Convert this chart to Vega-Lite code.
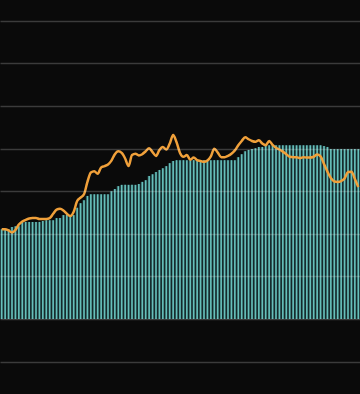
{
  "$schema": "https://vega.github.io/schema/vega-lite/v6.json",
  "width": 360,
  "height": 394,
  "padding": 0,
  "autosize": {"type": "none"},
  "background": "#0a0a0a",
  "config": {"view": {"stroke": null}},
  "data": {"values": [
    {"i":0,"bar":21.1,"line":21.1},{"i":1,"bar":21.1,"line":21.1},{"i":2,"bar":21.1,"line":20.8},{"i":3,"bar":21.6,"line":20.3},{"i":4,"bar":21.8,"line":20.9},
    {"i":5,"bar":21.8,"line":22.2},{"i":6,"bar":22.8,"line":22.9},{"i":7,"bar":22.8,"line":23.3},{"i":8,"bar":22.8,"line":23.6},{"i":9,"bar":22.8,"line":23.7},
    {"i":10,"bar":22.8,"line":23.7},{"i":11,"bar":22.8,"line":23.5},{"i":12,"bar":23.0,"line":23.5},{"i":13,"bar":23.2,"line":23.5},{"i":14,"bar":23.2,"line":23.7},
    {"i":15,"bar":23.2,"line":24.7},{"i":16,"bar":23.7,"line":25.7},{"i":17,"bar":23.7,"line":25.9},{"i":18,"bar":24.4,"line":25.5},{"i":19,"bar":24.4,"line":24.7},
    {"i":20,"bar":24.4,"line":24.2},{"i":21,"bar":24.4,"line":25.2},{"i":22,"bar":26.1,"line":27.7},{"i":23,"bar":27.2,"line":28.5},{"i":24,"bar":27.9,"line":29.3},
    {"i":25,"bar":28.9,"line":32.2},{"i":26,"bar":29.3,"line":34.4},{"i":27,"bar":29.3,"line":34.7},{"i":28,"bar":29.3,"line":34.1},{"i":29,"bar":29.3,"line":35.6},
    {"i":30,"bar":29.3,"line":35.9},{"i":31,"bar":29.3,"line":36.3},{"i":32,"bar":30.0,"line":37.2},{"i":33,"bar":30.5,"line":38.7},{"i":34,"bar":31.2,"line":39.4},
    {"i":35,"bar":31.5,"line":39.0},{"i":36,"bar":31.5,"line":37.7},{"i":37,"bar":31.5,"line":35.9},{"i":38,"bar":31.5,"line":38.5},{"i":39,"bar":31.5,"line":38.8},
    {"i":40,"bar":31.7,"line":38.4},{"i":41,"bar":32.2,"line":38.7},{"i":42,"bar":32.6,"line":39.4},{"i":43,"bar":33.6,"line":40.1},{"i":44,"bar":34.0,"line":39.2},
    {"i":45,"bar":34.5,"line":38.3},{"i":46,"bar":35.0,"line":39.7},{"i":47,"bar":35.4,"line":40.4},{"i":48,"bar":35.9,"line":39.8},{"i":49,"bar":36.6,"line":41.2},
    {"i":50,"bar":37.1,"line":43.2},{"i":51,"bar":37.3,"line":41.5},{"i":52,"bar":37.3,"line":39.0},{"i":53,"bar":37.3,"line":38.1},{"i":54,"bar":37.3,"line":38.5},
    {"i":55,"bar":37.3,"line":37.4},{"i":56,"bar":37.3,"line":37.9},{"i":57,"bar":37.3,"line":37.3},{"i":58,"bar":37.3,"line":37.1},{"i":59,"bar":37.3,"line":36.9},
    {"i":60,"bar":37.3,"line":37.2},{"i":61,"bar":37.3,"line":38.2},{"i":62,"bar":37.3,"line":40.0},{"i":63,"bar":37.3,"line":39.1},{"i":64,"bar":37.3,"line":38.0},
    {"i":65,"bar":37.3,"line":38.0},{"i":66,"bar":37.3,"line":38.3},{"i":67,"bar":37.3,"line":38.8},{"i":68,"bar":37.3,"line":39.6},{"i":69,"bar":38.0,"line":40.8},
    {"i":70,"bar":38.7,"line":41.8},{"i":71,"bar":39.4,"line":42.7},{"i":72,"bar":39.7,"line":42.2},{"i":73,"bar":39.9,"line":41.8},{"i":74,"bar":40.1,"line":41.6},
    {"i":75,"bar":40.4,"line":42.0},{"i":76,"bar":40.4,"line":41.2},{"i":77,"bar":40.8,"line":40.8},{"i":78,"bar":40.8,"line":41.8},{"i":79,"bar":40.8,"line":40.9},
    {"i":80,"bar":40.8,"line":40.2},{"i":81,"bar":40.8,"line":39.8},{"i":82,"bar":40.8,"line":39.3},{"i":83,"bar":40.8,"line":38.7},{"i":84,"bar":40.8,"line":38.1},
    {"i":85,"bar":40.8,"line":38.0},{"i":86,"bar":40.8,"line":38.0},{"i":87,"bar":40.8,"line":37.8},{"i":88,"bar":40.8,"line":38.0},{"i":89,"bar":40.8,"line":37.9},
    {"i":90,"bar":40.8,"line":37.9},{"i":91,"bar":40.8,"line":38.1},{"i":92,"bar":40.8,"line":38.6},{"i":93,"bar":40.8,"line":38.2},{"i":94,"bar":40.6,"line":36.4},
    {"i":95,"bar":40.4,"line":34.6},{"i":96,"bar":39.9,"line":33.1},{"i":97,"bar":39.9,"line":32.3},{"i":98,"bar":39.9,"line":32.2},{"i":99,"bar":39.9,"line":32.4},
    {"i":100,"bar":39.9,"line":33.0},{"i":101,"bar":39.9,"line":34.5},{"i":102,"bar":39.9,"line":34.6},{"i":103,"bar":39.9,"line":32.9},{"i":104,"bar":39.9,"line":31.0}
  ]},
  "encoding": {
    "x": {"field": "i", "type": "ordinal", "axis": null,
          "scale": {"paddingInner": 0, "paddingOuter": 0}}
  },
  "layer": [
    {
      "mark": {"type": "bar", "color": "#193234", "width": {"band": 1}},
      "encoding": {
        "y": {"field": "bar", "type": "quantitative",
              "scale": {"domain": [-17.6, 74.9], "nice": false, "zero": false},
              "axis": {"orient": "left", "labels": false, "ticks": false, "domain": false, "title": null,
                       "grid": true, "gridColor": "#ffffff", "gridOpacity": 0.2, "gridWidth": 1.5,
                       "values": [-10, 0, 10, 20, 30, 40, 50, 60, 70], "zindex": 1}}
      }
    },
    {
      "mark": {"type": "bar", "color": "#66bfba", "width": {"band": 0.48}},
      "encoding": {"y": {"field": "bar", "type": "quantitative"}}
    },
    {
      "mark": {"type": "line", "color": "#f0a03a", "strokeWidth": 2.5, "interpolate": "monotone"},
      "encoding": {"y": {"field": "line", "type": "quantitative"}}
    }
  ]
}
